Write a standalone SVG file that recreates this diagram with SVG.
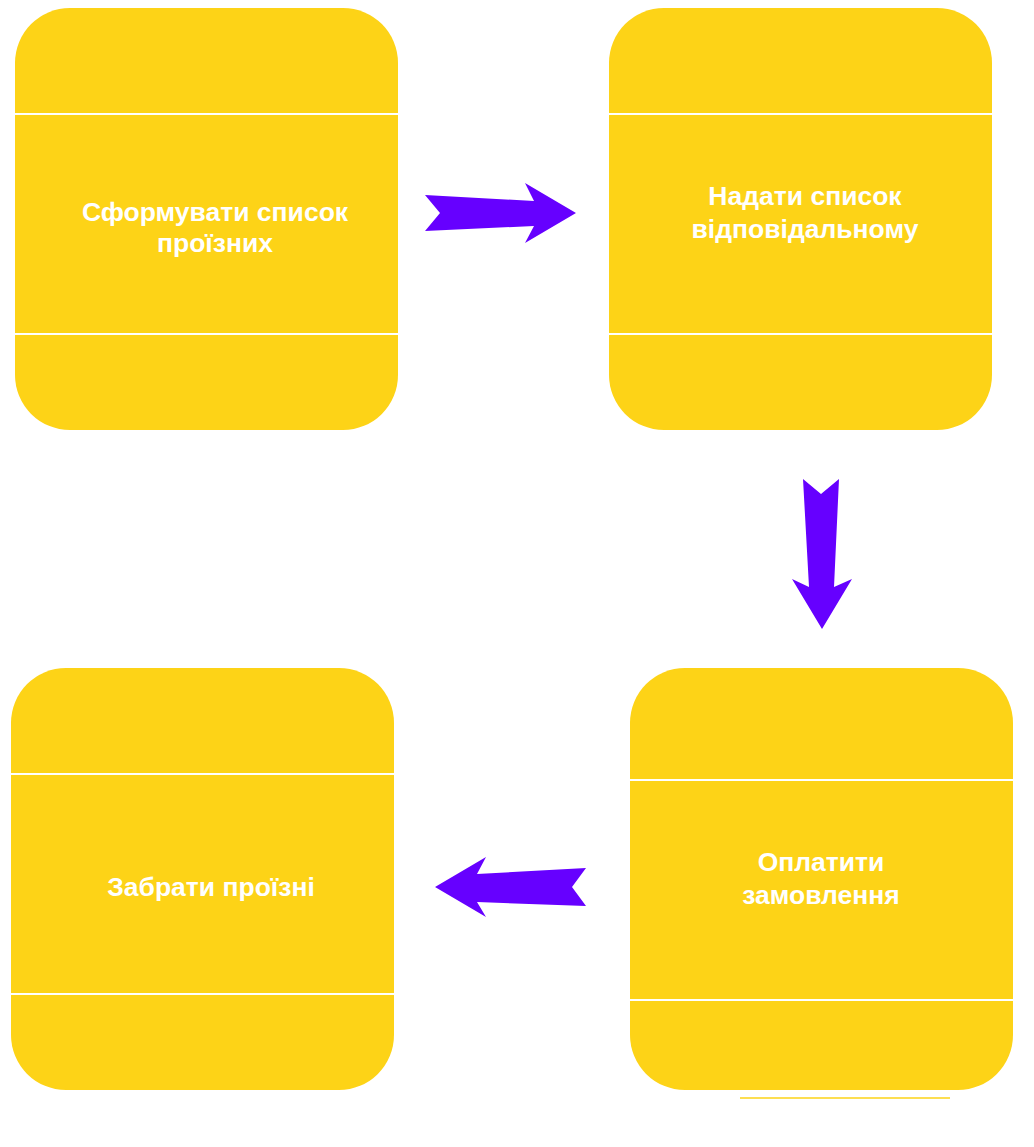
<svg xmlns="http://www.w3.org/2000/svg" width="1034" height="1147" viewBox="0 0 1034 1147">
<style>
.box{fill:#FDD317;}
.sep{stroke:#FFFFFF;stroke-width:2;}
.lbl{font-family:"Liberation Sans",Arial,Helvetica,sans-serif;font-weight:bold;font-size:26.5px;fill:#FFFFFF;text-anchor:middle;}
.arr{fill:#6600FF;}
</style>
<rect width="1034" height="1147" fill="#FFFFFF"/>
<g id="node1">
<rect class="box" x="15" y="8" width="383" height="422" rx="55" ry="55"/>
<line class="sep" x1="15" y1="114" x2="398" y2="114"/>
<line class="sep" x1="15" y1="334" x2="398" y2="334"/>
<text class="lbl" x="215" y="221">Сформувати список</text>
<text class="lbl" x="215" y="252">проїзних</text>
</g>
<g id="node2">
<rect class="box" x="609" y="8" width="383" height="422" rx="55" ry="55"/>
<line class="sep" x1="609" y1="114" x2="992" y2="114"/>
<line class="sep" x1="609" y1="334" x2="992" y2="334"/>
<text class="lbl" x="805" y="205">Надати список</text>
<text class="lbl" x="805" y="238">відповідальному</text>
</g>
<g id="node3">
<rect class="box" x="11" y="668" width="383" height="422" rx="55" ry="55"/>
<line class="sep" x1="11" y1="774" x2="394" y2="774"/>
<line class="sep" x1="11" y1="994" x2="394" y2="994"/>
<text class="lbl" x="211" y="896">Забрати проїзні</text>
</g>
<g id="node4">
<rect class="box" x="630" y="668" width="383" height="422" rx="55" ry="55"/>
<line class="sep" x1="630" y1="780" x2="1013" y2="780"/>
<line class="sep" x1="630" y1="1000" x2="1013" y2="1000"/>
<text class="lbl" x="821" y="871">Оплатити</text>
<text class="lbl" x="821" y="904">замовлення</text>
<line x1="740" y1="1098" x2="950" y2="1098" stroke="#FDD317" stroke-width="1.5"/>
</g>
<g id="connectors">
<polygon class="arr" points="425,195 534,201 525,183 576,213 525,243 534,226 425,231 440,213"/>
<polygon class="arr" points="803,479 821,494 839,479 834,587 852,579 822,629 792,579 809,587"/>
<polygon class="arr" points="586,868 572,887 586,906 477,902 486,917 435,887 486,857 477,874"/>
</g>
</svg>
